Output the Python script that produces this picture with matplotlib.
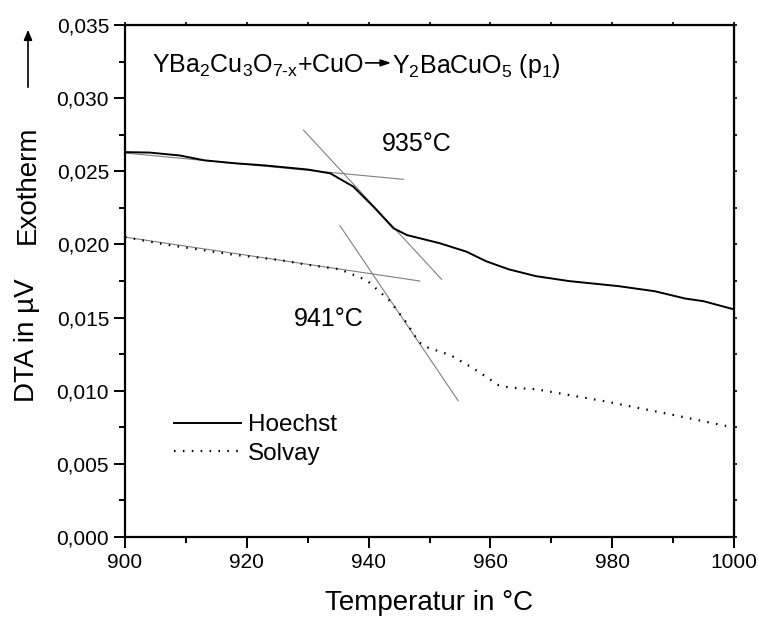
import matplotlib
matplotlib.use("Agg")
import matplotlib.pyplot as plt
from matplotlib.ticker import MultipleLocator, FuncFormatter

plt.rcParams['font.family'] = ['Liberation Sans', 'DejaVu Sans']
plt.rcParams['mathtext.fontset'] = 'custom'
plt.rcParams['mathtext.rm'] = 'Liberation Sans'
plt.rcParams['mathtext.it'] = 'Liberation Sans:italic'
plt.rcParams['mathtext.bf'] = 'Liberation Sans:bold'

# DTA curves
hoechst_t = [900, 904, 909, 913, 918, 923, 930, 933.7, 937.5, 940.8, 944.1, 946.3,
             951.7, 956.1, 959.3, 963, 967.5, 973, 981, 987, 992, 995, 1000]
hoechst_v = [0.02631, 0.02628, 0.02608, 0.02575, 0.02555, 0.0254, 0.02512, 0.02486,
             0.02395, 0.02258, 0.0211, 0.02064, 0.02008, 0.0195, 0.01885, 0.0183,
             0.01783, 0.01749, 0.01715, 0.0168, 0.0163, 0.01612, 0.01556]

solvay_t = [900, 906.7, 917.6, 925.5, 929.6, 935.3, 939.7, 943.5, 946.3, 948.2, 949.3,
            953.4, 957.2, 961.3, 963, 967.5, 978.5, 989.5, 1000]
solvay_v = [0.0205, 0.01999, 0.01931, 0.01893, 0.01863, 0.0183, 0.01755, 0.01614,
            0.01461, 0.01335, 0.01301, 0.01244, 0.01153, 0.01039, 0.01022, 0.0101,
            0.0093, 0.00839, 0.00748]

# tangent lines (onset construction)
tan_hoechst_base = ([900, 945.7], [0.02625, 0.02445])
tan_hoechst_steep = ([929.3, 952.0], [0.02782, 0.01761])
tan_solvay_base = ([900, 948.4], [0.0205, 0.0175])
tan_solvay_steep = ([935.3, 954.7], [0.02128, 0.00932])

fig = plt.figure(figsize=(7.58, 6.22), dpi=100)
ax = fig.add_axes([125/758, 1 - 537/622, 609/758, 512/622])

gray = '#7f7f7f'
for xs, ys in [tan_hoechst_base, tan_hoechst_steep, tan_solvay_base, tan_solvay_steep]:
    ax.plot(xs, ys, color=gray, lw=0.8)

ax.plot(hoechst_t, hoechst_v, color='black', lw=1.4, label='Hoechst')
ax.plot(solvay_t, solvay_v, color='black', lw=1.6, linestyle=(0, (0.7, 3.3)),
        label='Solvay')

ax.set_xlim(900, 1000)
ax.set_ylim(0, 0.035)
ax.xaxis.set_major_locator(MultipleLocator(20))
ax.xaxis.set_minor_locator(MultipleLocator(10))
ax.yaxis.set_major_locator(MultipleLocator(0.005))
ax.yaxis.set_minor_locator(MultipleLocator(0.0025))
ax.yaxis.set_major_formatter(FuncFormatter(lambda v, p: f'{v:.3f}'.replace('.', ',')))

for s in ax.spines.values():
    s.set_linewidth(1.6)
ax.tick_params(which='major', direction='out', length=8, width=1.4, labelsize=15)
ax.tick_params(which='minor', direction='out', length=4.5, width=1.4)

# short ticks on top and right
secx = ax.secondary_xaxis('top')
secx.xaxis.set_major_locator(MultipleLocator(10))
secx.tick_params(direction='out', length=2.5, width=1.2, labeltop=False)
secy = ax.secondary_yaxis('right')
secy.yaxis.set_major_locator(MultipleLocator(0.0025))
secy.tick_params(direction='out', length=2.5, width=1.2, labelright=False)

ax.set_xlabel('Temperatur in °C', fontsize=20, labelpad=13)

fig.text(27/758, 1 - 340/622, 'DTA in µV', rotation=90, fontsize=20,
         ha='center', va='center')
fig.text(28/758, 1 - 185/622, 'Exotherm', rotation=90, fontsize=20,
         ha='center', va='center')
fig.add_artist(matplotlib.patches.FancyArrowPatch(
    (28/758, 1 - 90/622), (28/758, 1 - 27/622), transform=fig.transFigure,
    arrowstyle='-|>,head_length=6,head_width=2.5', color='black', lw=1.2,
    mutation_scale=1))

# reaction equation
ax.text(0.044, 0.906, r'$\mathregular{YBa_2Cu_3O_{7\text{-}x}{+}CuO}$', transform=ax.transAxes,
        fontsize=18, ha='left', va='baseline')
ax.annotate('', xy=(0.437, 0.926), xytext=(0.395, 0.926), xycoords='axes fraction',
            arrowprops=dict(arrowstyle='-|>,head_length=0.6,head_width=0.2',
                            color='black', lw=1.2, shrinkA=0, shrinkB=0))
ax.text(0.438, 0.906, r'$\mathregular{Y_2BaCuO_5\ (p_1)}$', transform=ax.transAxes,
        fontsize=18, ha='left', va='baseline')

ax.text(947.9, 0.02686, '935°C', fontsize=18, ha='center', va='center')
ax.text(933.5, 0.0149, '941°C', fontsize=18, ha='center', va='center')

ax.legend(loc='upper left', bbox_to_anchor=(0.08, 0.24), frameon=False,
          handlelength=2.75, handletextpad=0.3, labelspacing=0.28, borderpad=0,
          borderaxespad=0, fontsize=17.5)

fig.savefig('out.png', dpi=100)
